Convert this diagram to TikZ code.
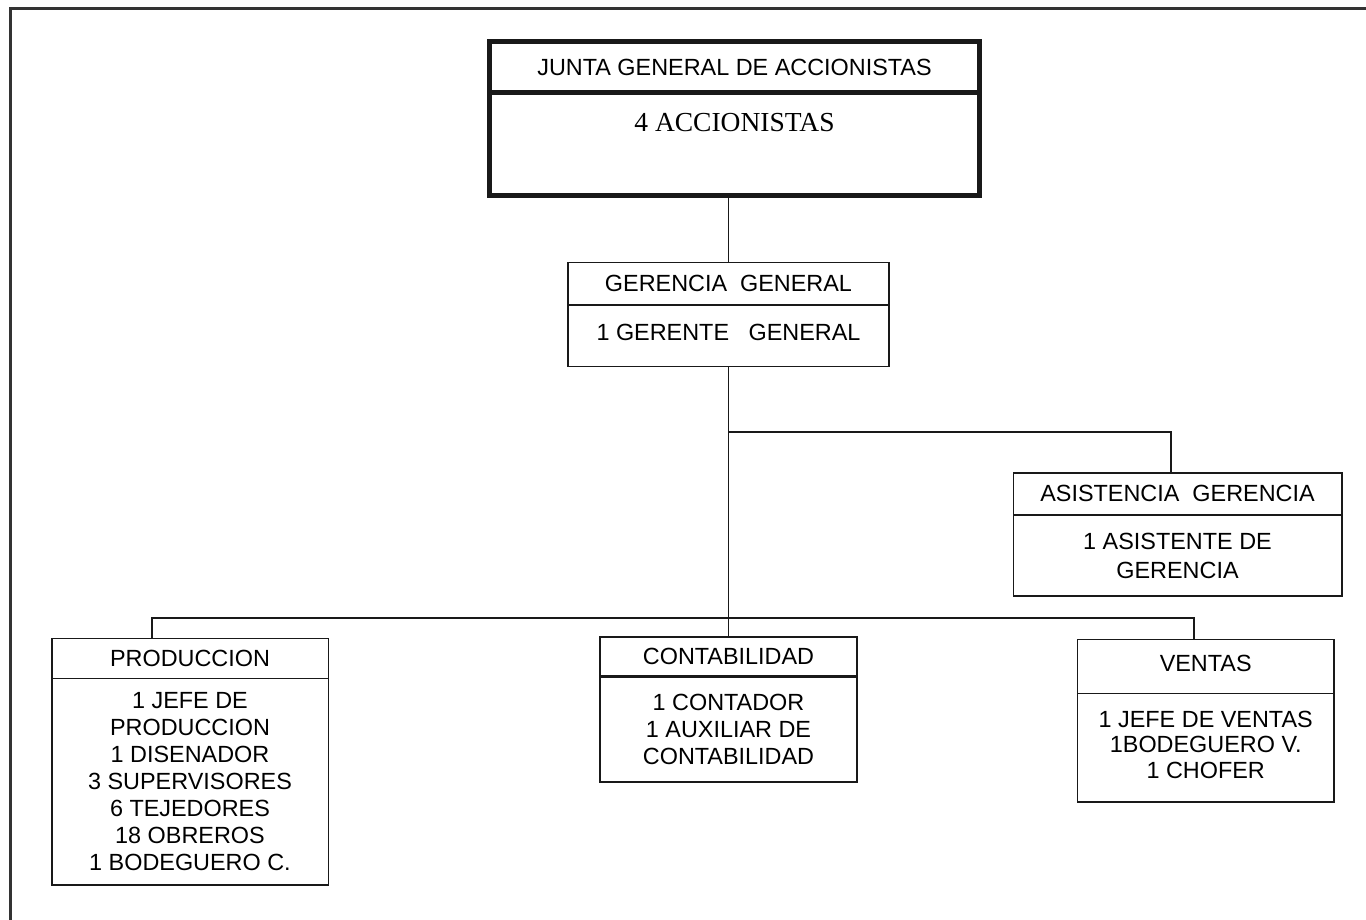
\documentclass[tikz,border=0pt]{standalone}
\usepackage{fontspec}
\setmainfont{Liberation Sans}
\newfontfamily\tnr{Liberation Serif}
\begin{document}
\begin{tikzpicture}[x=1pt,y=-1pt,
  box/.style={draw=black!90, line width=1.6pt, rectangle, inner sep=0pt, outer sep=0pt,
    align=center, text=black, font=\fontsize{23.4}{27}\selectfont},
  heavybox/.style={box, line width=5.5pt},
  link/.style={draw=black!90, line width=1.6pt},
  frame/.style={draw=black!80, line width=3pt}]
  \path[use as bounding box] (0,0) rectangle (1366,920);
  \clip (0,0) rectangle (1366,920);
  \fill[white] (0,0) rectangle (1366,920);

  % page frame (open on the right and at the bottom)
  \draw[frame] (10,940) -- (10,8.5) -- (1390,8.5);

  % shareholders' meeting
  \node[heavybox, minimum width=490pt, minimum height=51pt] (juntaT) at (734.5,67) {JUNTA GENERAL DE ACCIONISTAS};
  \node[heavybox, minimum width=490pt, minimum height=103pt] (juntaB) at (734.5,144) {};
  \node[text=black, font=\tnr\fontsize{27.5}{30}\selectfont, inner sep=0pt] (acc) at ([yshift=-30.5pt]juntaB.north) {4 ACCIONISTAS};

  % general management
  \node[box, minimum width=321.3pt, minimum height=42.7pt] (gerT) at (728.5,283.7) {GERENCIA~ GENERAL};
  \node[box, minimum width=321.3pt, minimum height=61.7pt] (gerB) at (728.5,335.8) {\raisebox{6pt}{1 GERENTE~~ GENERAL}};

  % management assistance
  \node[box, minimum width=328.4pt, minimum height=42.3pt] (asisT) at (1177.5,493.9) {ASISTENCIA~ GERENCIA};
  \node[box, minimum width=328.4pt, minimum height=81pt, font=\fontsize{23.4}{29}\selectfont] (asisB) at (1177.5,555.5) {1 ASISTENTE DE\\GERENCIA};

  % production
  \node[box, minimum width=276.6pt, minimum height=40pt] (prodT) at (190,658.3) {PRODUCCION};
  \node[box, minimum width=276.6pt, minimum height=206.7pt] (prodB) at (190,781.7) {1 JEFE DE\\PRODUCCION\\1 DISENADOR\\3 SUPERVISORES\\6 TEJEDORES\\18 OBREROS\\1 BODEGUERO C.};

  % accounting
  \node[box, minimum width=257.4pt, minimum height=40pt] (contT) at (728.5,656.7) {CONTABILIDAD};
  \node[box, minimum width=257.4pt, minimum height=105pt] (contB) at (728.5,729.2) {1 CONTADOR\\1 AUXILIAR DE\\CONTABILIDAD};
  \draw[line width=2.8pt, black!90] (contT.south west) -- (contT.south east);

  % sales
  \node[box, minimum width=256.7pt, minimum height=54pt] (ventT) at (1205.7,666.3) {\raisebox{5pt}{VENTAS}};
  \node[box, minimum width=256.7pt, minimum height=108.4pt] (ventB) at (1205.7,747.5) {\raisebox{4pt}{\begin{tabular}{@{}c@{}}1 JEFE DE VENTAS\\[-1.6pt]1BODEGUERO V.\\[-1.6pt]1 CHOFER\end{tabular}}};

  % connectors
  \coordinate (branch) at (728.5,432);
  \coordinate (bus) at (728.5,618);
  \draw[link] (juntaB.south -| gerT.north) -- (gerT.north);
  \draw[link] (gerB.south) -- (contT.north);
  \draw[link] (branch) -| ([xshift=-6.8pt]asisT.north);
  \draw[link] ([xshift=-38.3pt]prodT.north) |- (bus) -| ([xshift=-11.7pt]ventT.north);
\end{tikzpicture}
\end{document}
